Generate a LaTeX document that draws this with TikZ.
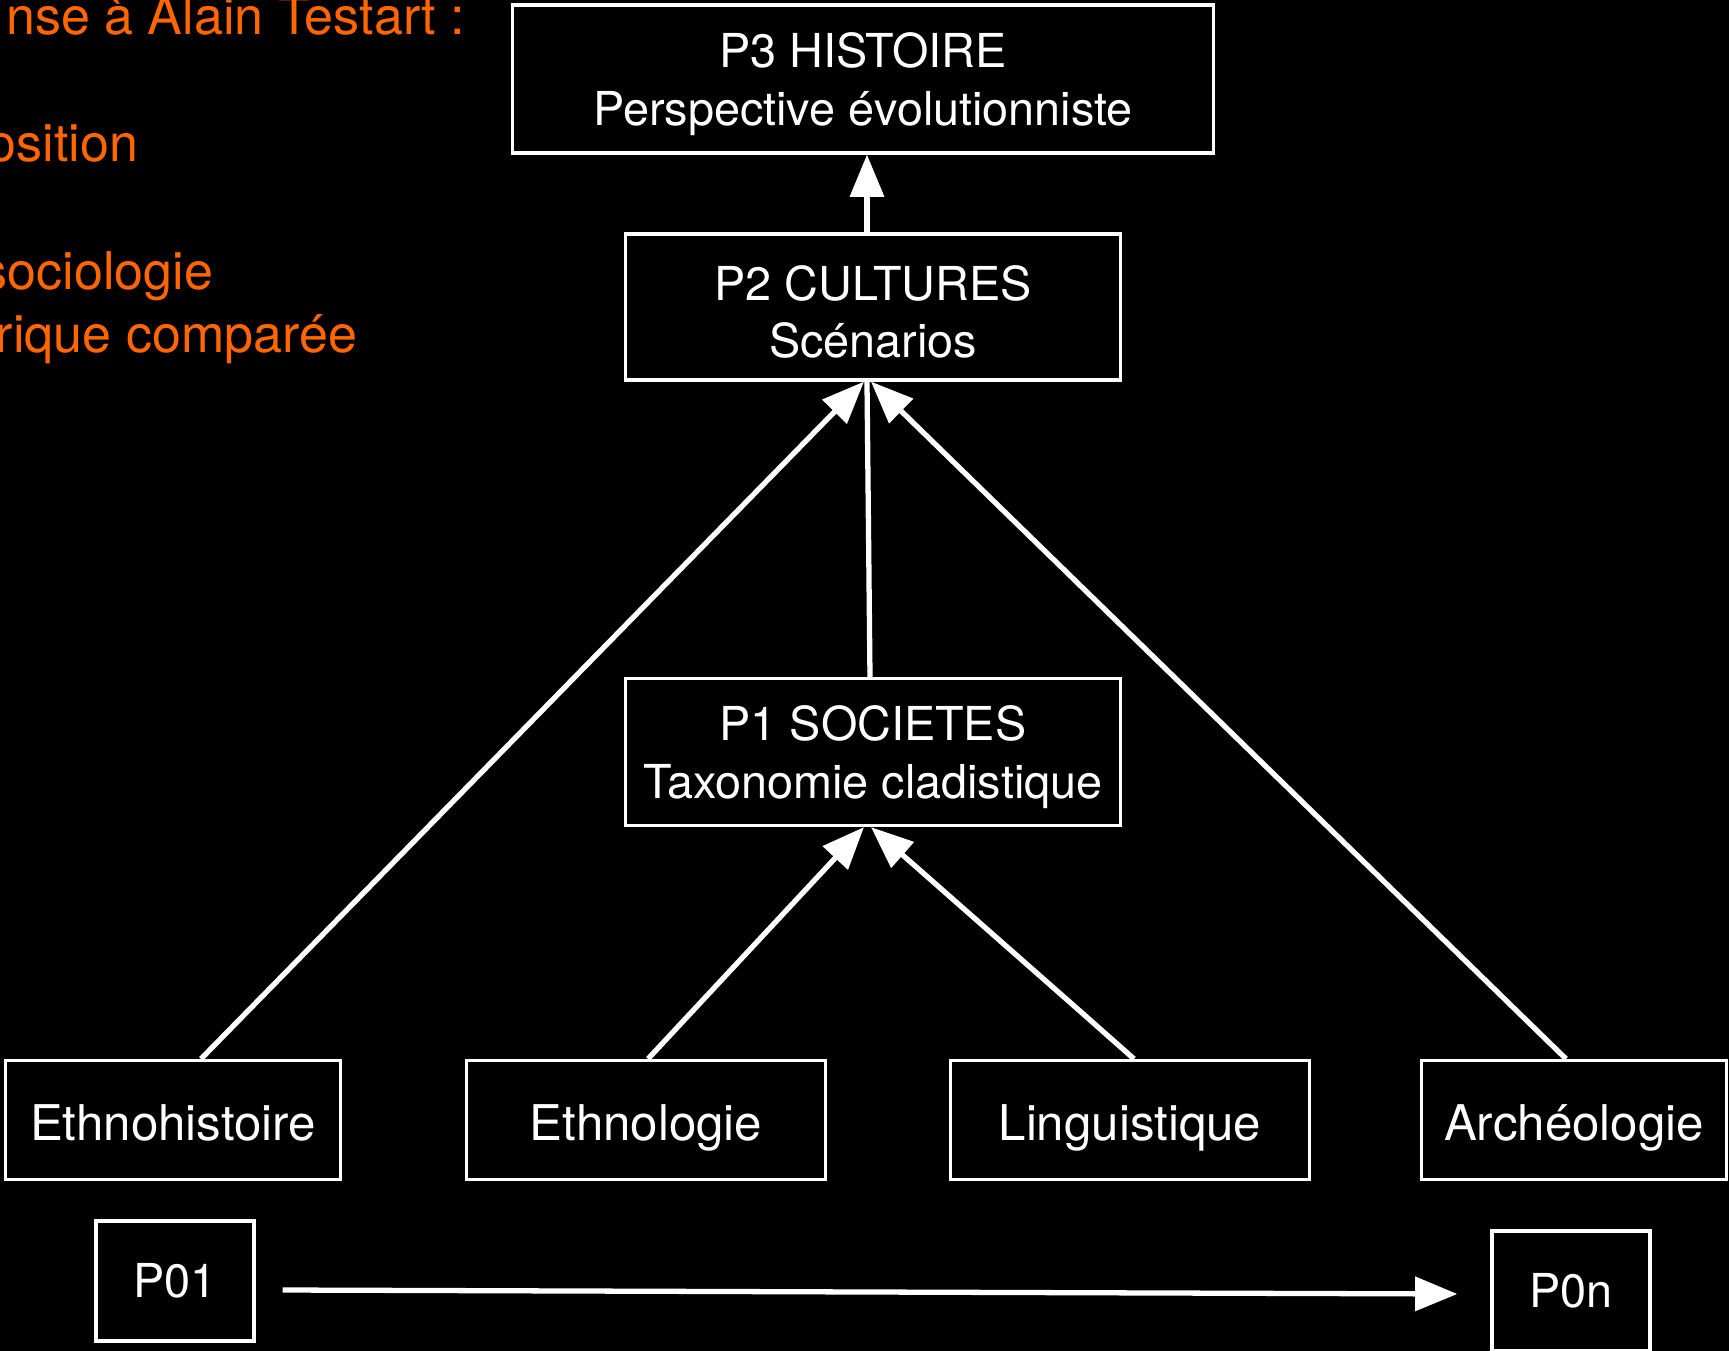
\documentclass[tikz,border=0pt]{standalone}
\usepackage{fontspec}
\setmainfont{TeX Gyre Heros}
\usetikzlibrary{arrows.meta,positioning}
\definecolor{noteorange}{HTML}{FF6600}
\newcommand{\lvlstrut}{\rule{0pt}{12.9pt}}
\tikzset{
  box/.style={draw=white, line width=.9pt, fill=black, text=white, align=center, inner sep=0pt, font=\fontsize{13.3}{16.3}\selectfont},
  lvlbox/.style={box},
  discbox/.style={box, minimum height=1.19cm, text height=12pt, text depth=0.5pt, font=\fontsize{14}{16}\selectfont},
  pbox/.style={box, minimum width=1.58cm, minimum height=1.2cm},
  ar/.style={-{Triangle[length=12pt, width=9.5pt]}, line width=1.5pt, draw=white},
  ln/.style={line width=1.5pt, draw=white},
  note/.style={font=\fontsize{14.8}{17}\selectfont, text=noteorange, anchor=base east, inner sep=0pt},
}

\begin{document}
\begin{tikzpicture}[x=0.01cm, y=-0.01cm]
  \fill[black] (0,0) rectangle (1729,1351);
  \useasboundingbox (0,0) rectangle (1729,1351);
  \clip (0,0) rectangle (1729,1351);
  % texte orange, coupé au bord gauche
  \node[note] (n1) at (466,34) {nse à Alain Testart :};
  \node[note] (n2) at (139,161) {osition};
  \node[note] (n3) at (214,289) {sociologie};
  \node[note] (n4) at (358,352) {rique comparée};
  % niveaux
  \node[lvlbox, minimum width=7cm, minimum height=1.48cm] (p3) at (863,79) {\lvlstrut P3 HISTOIRE\\Perspective évolutionniste};
  \node[lvlbox, minimum width=4.95cm, minimum height=1.46cm] (p2) at (873,307) {\lvlstrut P2 CULTURES\\Scénarios};
  \node[lvlbox, minimum width=4.95cm, minimum height=1.47cm] (p1) at (873,752) {\lvlstrut P1 SOCIETES\\Taxonomie cladistique};
  % disciplines
  \node[discbox, minimum width=3.35cm] (ethnohist) at (173,1120) {Ethnohistoire};
  \node[discbox, minimum width=3.59cm] (ethnol) at (646,1120) {Ethnologie};
  \node[discbox, minimum width=3.59cm] (ling) at (1130,1120) {Linguistique};
  \node[discbox, minimum width=3.05cm] (archeo) at (1574,1120) {Archéologie};
  \node[pbox] (p01) at (175,1281) {P01};
  \node[pbox] (p0n) at (1571,1291) {P0n};
  % liaisons
  \draw[ar] ([xshift=-0.06cm]p2.north) -- ([xshift=-0.06cm]p2.north |- p3.south);
  \draw[ln] ([xshift=-0.03cm]p1.north) -- ([xshift=-0.06cm]p2.south);
  \draw[ar] ([xshift=0.28cm]ethnohist.north) -- ([xshift=-0.09cm]p2.south);
  \draw[ar] ([xshift=-0.08cm]archeo.north) -- ([xshift=-0.02cm]p2.south);
  \draw[ar] ([xshift=0.02cm]ethnol.north) -- ([xshift=-0.09cm]p1.south);
  \coordinate (lingbend) at (1081,1012);
  \draw[ar] ([xshift=0.04cm]ling.north) -- (lingbend) -- ([xshift=-0.02cm]p1.south);
  \draw[ar] ([shift={(0.27cm,-0.09cm)}]p01.east) -- ([shift={(-0.33cm,-0.03cm)}]p0n.west);
\end{tikzpicture}
\end{document}
